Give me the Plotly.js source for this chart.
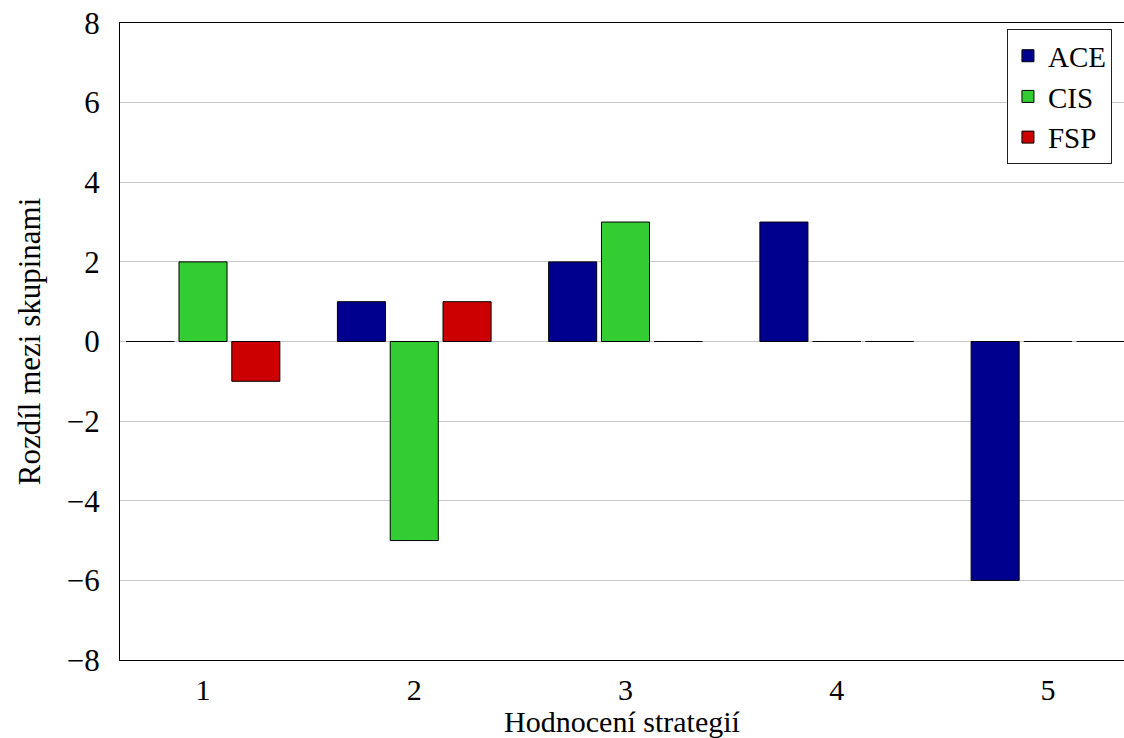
<!DOCTYPE html>
<html>
<head>
<meta charset="utf-8">
<script src="https://cdn.plot.ly/plotly-3.0.1.min.js"></script>
<style>
  html, body { margin: 0; padding: 0; background: #fff; }
  #chart { width: 1124px; height: 738px; }
</style>
</head>
<body>
<div id="chart"></div>
<script>
// Strategy ratings: difference between groups
const categories = [1, 2, 3, 4, 5];
const aceValues = [0, 1, 2, 3, -6];
const cisValues = [2, -5, 3, 0, 0];
const fspValues = [-1, 1, 0, 0, 0];
const seriesNames = ['ACE', 'CIS', 'FSP'];
const seriesColors = ['#00008f', '#33cc33', '#cc0000'];
const yTicks = [-8, -6, -4, -2, 0, 2, 4, 6, 8];

const FONT = 'Liberation Serif, DejaVu Serif, serif';
const FS = 31;

const traces = [aceValues, cisValues, fspValues].map((vals, i) => ({
  type: 'bar',
  name: seriesNames[i],
  x: categories,
  y: vals,
  marker: { color: seriesColors[i], line: { color: '#000', width: 1 } },
  hoverinfo: 'x+y+name'
}));

const layout = {
  width: 1124,
  height: 738,
  margin: { l: 120, r: 0, t: 23, b: 78 },
  paper_bgcolor: '#fff',
  plot_bgcolor: '#fff',
  barmode: 'group',
  bargap: 0.25,
  bargroupgap: 0.09,
  font: { family: FONT, size: FS, color: '#000' },
  showlegend: true,
  legend: {
    x: 0.988, xanchor: 'right',
    y: 0.99, yanchor: 'top',
    bgcolor: '#fff',
    bordercolor: '#222',
    borderwidth: 1,
    font: { family: FONT, size: 29, color: '#000' },
    itemwidth: 30,
    tracegroupgap: 0
  },
  xaxis: {
    range: [0.607, 5.36],
    tickvals: categories,
    ticktext: categories.map(String),
    showgrid: false,
    zeroline: false,
    showline: true,
    mirror: true,
    linecolor: '#000',
    linewidth: 1,
    ticks: '',
    ticklabelstandoff: 3,
    tickfont: { family: FONT, size: 30 },
    title: { text: 'Hodnocení strategií', font: { family: FONT, size: 30 }, standoff: 10 }
  },
  yaxis: {
    range: [-8, 8],
    tickvals: yTicks,
    showgrid: true,
    gridcolor: '#c8c8c8',
    gridwidth: 1,
    zeroline: false,
    showline: true,
    linecolor: '#000',
    linewidth: 1,
    ticks: '',
    ticklabelstandoff: 13,
    tickfont: { family: FONT, size: FS },
    title: { text: 'Rozdíl mezi skupinami', font: { family: FONT, size: FS }, standoff: 16 }
  }
};

Plotly.newPlot('chart', traces, layout, { displayModeBar: false, staticPlot: true });
</script>
</body>
</html>
